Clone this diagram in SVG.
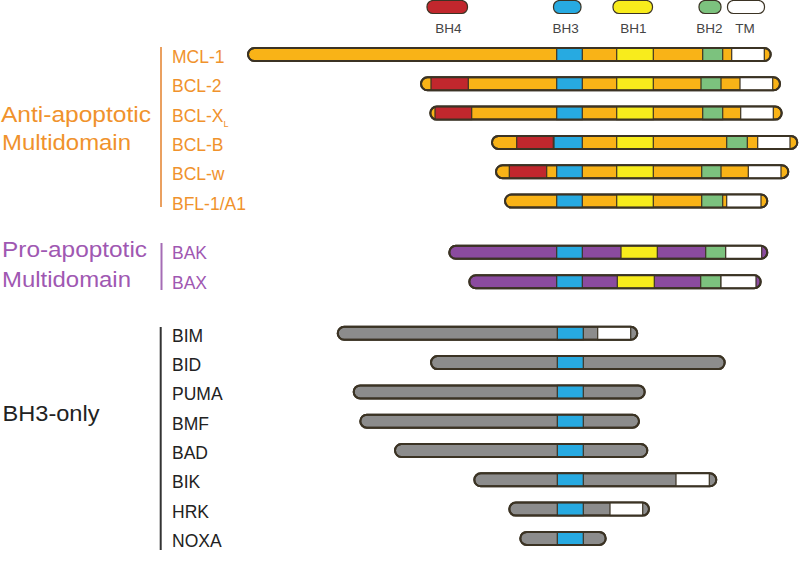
<svg xmlns="http://www.w3.org/2000/svg" width="800" height="561" viewBox="0 0 800 561">
<style>
text{font-family:"Liberation Sans",Arial,sans-serif}
.lg{font-size:13.5px;fill:#444;text-anchor:middle}
.or{fill:#f0922c}
.pu{fill:#9f58b2}
.bk{fill:#222}
.nm{font-size:17.5px}
.gt{font-size:22px}
.pill{stroke:#3b3324;stroke-width:2}
.dom{stroke:#3b3324;stroke-width:1.2}
.o{fill:#f9b317}
.p{fill:#8b4b9f}
.g{fill:#8c8c8c}
.r{fill:#c1272d}
.b{fill:#27aae1}
.y{fill:#f8ec1c}
.gr{fill:#7cc27e}
.w{fill:#fff}
.out{fill:none;stroke:#3b3324;stroke-width:2}
</style>
<rect width="800" height="561" fill="#fff"/>

<g id="legend">
<rect class="dom r" x="427" y="0.5" width="40.5" height="13" rx="6"/>
<rect class="dom b" x="553.5" y="0.5" width="27.5" height="13" rx="6"/>
<rect class="dom y" x="613" y="0.5" width="39.5" height="13" rx="6"/>
<rect class="dom gr" x="699" y="0.5" width="22" height="13" rx="6"/>
<rect class="dom w" x="727.5" y="0.5" width="37" height="13" rx="6"/>
<text class="lg" x="448.3" y="33">BH4</text>
<text class="lg" x="565.7" y="33">BH3</text>
<text class="lg" x="633.3" y="33">BH1</text>
<text class="lg" x="709.3" y="33">BH2</text>
<text class="lg" x="745" y="33">TM</text>
</g>

<g id="group-anti">
<line x1="161" y1="47" x2="161" y2="207" stroke="#eaa060" stroke-width="2"/>
<text class="or gt" x="1" y="122" textLength="150" lengthAdjust="spacingAndGlyphs">Anti-apoptotic</text>
<text class="or gt" x="2" y="150" textLength="129" lengthAdjust="spacingAndGlyphs">Multidomain</text>
</g>
<g id="group-pro">
<line x1="161.5" y1="243" x2="161.5" y2="290" stroke="#a56cb5" stroke-width="2"/>
<text class="pu gt" x="2" y="257" textLength="145" lengthAdjust="spacingAndGlyphs">Pro-apoptotic</text>
<text class="pu gt" x="2" y="287" textLength="129" lengthAdjust="spacingAndGlyphs">Multidomain</text>
</g>
<g id="group-bh3">
<line x1="160.7" y1="327" x2="160.7" y2="550" stroke="#333" stroke-width="2"/>
<text class="bk gt" x="2.5" y="420.5" textLength="97" lengthAdjust="spacingAndGlyphs">BH3-only</text>
</g>

<g id="MCL-1">
<text class="or nm" x="172" y="63">MCL-1</text>
<rect class="pill o" x="248" y="48" width="522.7" height="13" rx="6.5"/>
<rect class="dom b" x="556.7" y="48" width="25.6" height="13"/>
<rect class="dom y" x="616.7" y="48" width="36.6" height="13"/>
<rect class="dom gr" x="702.7" y="48" width="20" height="13"/>
<rect class="dom w" x="731.7" y="48" width="32.6" height="13"/>
<rect class="out" x="248" y="48" width="522.7" height="13" rx="6.5"/>
</g>
<g id="BCL-2">
<text class="or nm" x="172" y="92.3">BCL-2</text>
<rect class="pill o" x="421" y="77.3" width="359" height="13" rx="6.5"/>
<rect class="dom r" x="431" y="77.3" width="37.3" height="13"/>
<rect class="dom b" x="556.7" y="77.3" width="25.6" height="13"/>
<rect class="dom y" x="616.7" y="77.3" width="36.6" height="13"/>
<rect class="dom gr" x="701" y="77.3" width="20" height="13"/>
<rect class="dom w" x="740" y="77.3" width="32.7" height="13"/>
<rect class="out" x="421" y="77.3" width="359" height="13" rx="6.5"/>
</g>
<g id="BCL-XL">
<text class="or nm" x="172" y="121.6">BCL-X<tspan font-size="9" dy="5">L</tspan></text>
<rect class="pill o" x="430.3" y="106.6" width="351.4" height="13" rx="6.5"/>
<rect class="dom r" x="435" y="106.6" width="36.7" height="13"/>
<rect class="dom b" x="556.7" y="106.6" width="25.6" height="13"/>
<rect class="dom y" x="616.7" y="106.6" width="36.6" height="13"/>
<rect class="dom gr" x="702.7" y="106.6" width="20" height="13"/>
<rect class="dom w" x="740.7" y="106.6" width="32.6" height="13"/>
<rect class="out" x="430.3" y="106.6" width="351.4" height="13" rx="6.5"/>
</g>
<g id="BCL-B">
<text class="or nm" x="172" y="150.9">BCL-B</text>
<rect class="pill o" x="492" y="135.9" width="305.3" height="13" rx="6.5"/>
<rect class="dom r" x="516.7" y="135.9" width="36.6" height="13"/>
<rect class="dom b" x="554" y="135.9" width="28.3" height="13"/>
<rect class="dom y" x="616.7" y="135.9" width="36.6" height="13"/>
<rect class="dom gr" x="726.7" y="135.9" width="20.6" height="13"/>
<rect class="dom w" x="757.7" y="135.9" width="32.3" height="13"/>
<rect class="out" x="492" y="135.9" width="305.3" height="13" rx="6.5"/>
</g>
<g id="BCL-w">
<text class="or nm" x="172" y="180.2">BCL-w</text>
<rect class="pill o" x="496" y="165.2" width="292.3" height="13" rx="6.5"/>
<rect class="dom r" x="509.3" y="165.2" width="37.4" height="13"/>
<rect class="dom b" x="556.7" y="165.2" width="25.6" height="13"/>
<rect class="dom y" x="616.7" y="165.2" width="36.6" height="13"/>
<rect class="dom gr" x="701.7" y="165.2" width="19.3" height="13"/>
<rect class="dom w" x="748.3" y="165.2" width="32.7" height="13"/>
<rect class="out" x="496" y="165.2" width="292.3" height="13" rx="6.5"/>
</g>
<g id="BFL-1-A1">
<text class="or nm" x="172" y="209.5">BFL-1/A1</text>
<rect class="pill o" x="505" y="194.5" width="262.3" height="13" rx="6.5"/>
<rect class="dom b" x="556.7" y="194.5" width="25.6" height="13"/>
<rect class="dom y" x="616.7" y="194.5" width="36.6" height="13"/>
<rect class="dom gr" x="701.7" y="194.5" width="21" height="13"/>
<rect class="dom w" x="726.7" y="194.5" width="34.3" height="13"/>
<rect class="out" x="505" y="194.5" width="262.3" height="13" rx="6.5"/>
</g>

<g id="BAK">
<text class="pu nm" x="172" y="258.5">BAK</text>
<rect class="pill p" x="449.3" y="245.8" width="318" height="13" rx="6.5"/>
<rect class="dom b" x="556.7" y="245.8" width="25.6" height="13"/>
<rect class="dom y" x="621" y="245.8" width="36.3" height="13"/>
<rect class="dom gr" x="705.7" y="245.8" width="20" height="13"/>
<rect class="dom w" x="725.7" y="245.8" width="36" height="13"/>
<rect class="out" x="449.3" y="245.8" width="318" height="13" rx="6.5"/>
</g>
<g id="BAX">
<text class="pu nm" x="172" y="288.5">BAX</text>
<rect class="pill p" x="469.3" y="275.2" width="291.4" height="13" rx="6.5"/>
<rect class="dom b" x="556.7" y="275.2" width="25.6" height="13"/>
<rect class="dom y" x="617.3" y="275.2" width="37" height="13"/>
<rect class="dom gr" x="700.7" y="275.2" width="20.3" height="13"/>
<rect class="dom w" x="721" y="275.2" width="35" height="13"/>
<rect class="out" x="469.3" y="275.2" width="291.4" height="13" rx="6.5"/>
</g>

<g id="BIM">
<text class="bk nm" x="172" y="341.8">BIM</text>
<rect class="pill g" x="337.7" y="326.8" width="299.6" height="13" rx="6.5"/>
<rect class="dom b" x="557.3" y="326.8" width="26" height="13"/>
<rect class="dom w" x="597.7" y="326.8" width="33" height="13"/>
<rect class="out" x="337.7" y="326.8" width="299.6" height="13" rx="6.5"/>
</g>
<g id="BID">
<text class="bk nm" x="172" y="371.1">BID</text>
<rect class="pill g" x="431" y="356.1" width="293.7" height="13" rx="6.5"/>
<rect class="dom b" x="557.3" y="356.1" width="26" height="13"/>
<rect class="out" x="431" y="356.1" width="293.7" height="13" rx="6.5"/>
</g>
<g id="PUMA">
<text class="bk nm" x="172" y="400.4">PUMA</text>
<rect class="pill g" x="353.7" y="385.4" width="291" height="13" rx="6.5"/>
<rect class="dom b" x="557.3" y="385.4" width="26" height="13"/>
<rect class="out" x="353.7" y="385.4" width="291" height="13" rx="6.5"/>
</g>
<g id="BMF">
<text class="bk nm" x="172" y="429.7">BMF</text>
<rect class="pill g" x="360.3" y="414.7" width="278.7" height="13" rx="6.5"/>
<rect class="dom b" x="557.3" y="414.7" width="26" height="13"/>
<rect class="out" x="360.3" y="414.7" width="278.7" height="13" rx="6.5"/>
</g>
<g id="BAD">
<text class="bk nm" x="172" y="459">BAD</text>
<rect class="pill g" x="395" y="444" width="252.3" height="13" rx="6.5"/>
<rect class="dom b" x="557.3" y="444" width="26" height="13"/>
<rect class="out" x="395" y="444" width="252.3" height="13" rx="6.5"/>
</g>
<g id="BIK">
<text class="bk nm" x="172" y="488.3">BIK</text>
<rect class="pill g" x="474.3" y="473.3" width="242" height="13" rx="6.5"/>
<rect class="dom b" x="557.3" y="473.3" width="26" height="13"/>
<rect class="dom w" x="676" y="473.3" width="33.3" height="13"/>
<rect class="out" x="474.3" y="473.3" width="242" height="13" rx="6.5"/>
</g>
<g id="HRK">
<text class="bk nm" x="172" y="517.6">HRK</text>
<rect class="pill g" x="509.3" y="502.6" width="139.7" height="13" rx="6.5"/>
<rect class="dom b" x="557.3" y="502.6" width="26" height="13"/>
<rect class="dom w" x="610" y="502.6" width="32.7" height="13"/>
<rect class="out" x="509.3" y="502.6" width="139.7" height="13" rx="6.5"/>
</g>
<g id="NOXA">
<text class="bk nm" x="172" y="546.9">NOXA</text>
<rect class="pill g" x="520.3" y="531.9" width="85.4" height="13" rx="6.5"/>
<rect class="dom b" x="557.3" y="531.9" width="26" height="13"/>
<rect class="out" x="520.3" y="531.9" width="85.4" height="13" rx="6.5"/>
</g>
<g id="connectors"></g>
</svg>
